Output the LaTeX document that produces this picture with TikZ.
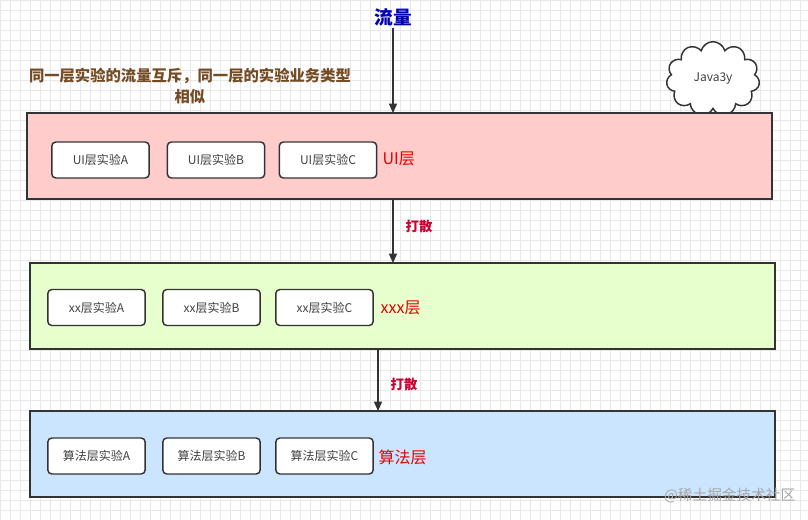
\documentclass[tikz,border=0pt]{standalone}
\usepackage{fontspec}
\setmainfont{Noto Sans CJK SC}
\usetikzlibrary{shapes.symbols,arrows.meta}
\definecolor{gridc}{HTML}{E8E8E8}
\begin{document}
\begin{tikzpicture}[x=0.75pt,y=-0.75pt,
 layer/.style={draw=black!80,line width=1.1pt},
 exp/.style={draw=black!80,line width=1.1pt,rounded corners=3pt,fill=white,minimum width=73pt,minimum height=27pt,inner sep=0pt,font=\fontsize{9}{10}\selectfont,text=black!75},
 lab/.style={text=red!90!black,font=\fontsize{12}{13}\selectfont,anchor=west},
 arr/.style={-{Triangle[length=7pt,width=6pt]},line width=1.1pt,draw=black!80},
 sc/.style={text=purple!80!red,font=\bfseries\fontsize{10}{11}\selectfont,anchor=west}]
\useasboundingbox (0,0) rectangle (808,520);
\fill[white] (0,0) rectangle (808,520);
\foreach \i in {0,10,...,800} \draw[gridc,line width=0.4pt] (\i,0) -- (\i,520);
\foreach \j in {0,10,...,520} \draw[gridc,line width=0.4pt] (0,\j) -- (808,\j);
\node[text=blue!70!black,font=\bfseries\fontsize{14}{15}\selectfont] (flow) at (393,17) {流量};
\node[text=brown!60!black,font=\bfseries\fontsize{11.5}{16}\selectfont,align=center] (note) at (190,86) {同一层实验的流量互斥，同一层的实验业务类型\\相似};
\node[cloud,cloud puffs=11,aspect=1.25,draw=black!80,line width=1.1pt,fill=white,minimum width=70pt,minimum height=56pt,font=\fontsize{9}{10}\selectfont,text=black!75] (cloud) at (713,79) {Java3y};
\node[layer,fill={rgb,255:red,255;green,204;blue,204},minimum width=558.75pt,minimum height=64.5pt,inner sep=0pt] (L1) at (399.5,156) {};
\node[exp] (a1) at (100.5,160) {UI层实验A};
\node[exp] (b1) at (216,160) {UI层实验B};
\node[exp] (c1) at (328,160) {UI层实验C};
\node[lab] (l1) at (378,159) {UI层};
\node[layer,fill={rgb,255:red,230;green,255;blue,204},minimum width=558.75pt,minimum height=64.5pt,inner sep=0pt] (L2) at (402.5,306) {};
\node[exp] (a2) at (96.5,307.5) {xx层实验A};
\node[exp] (b2) at (211.5,307.5) {xx层实验B};
\node[exp] (c2) at (324.5,307.5) {xx层实验C};
\node[lab] (l2) at (376,308) {xxx层};
\node[layer,fill={rgb,255:red,204;green,229;blue,255},minimum width=558.75pt,minimum height=64.5pt,inner sep=0pt] (L3) at (402.5,454) {};
\node[exp] (a3) at (96.5,456) {算法层实验A};
\node[exp] (b3) at (211.5,456) {算法层实验B};
\node[exp] (c3) at (324.5,456) {算法层实验C};
\node[lab] (l3) at (374,457) {算法层};
\coordinate (t1) at (393,113);
\coordinate (s1) at (393,28);
\draw[arr] (s1) -- (t1);
\draw[arr] (393,199) -- (393,263);
\node[sc] (d1) at (401,226) {打散};
\draw[arr] (378,349) -- (378,411);
\node[sc] (d2) at (386,384) {打散};
\node[text=black!35,font=\fontsize{11}{12}\selectfont,anchor=east] (wm) at (800,496) {@稀土掘金技术社区};
\end{tikzpicture}
\end{document}
